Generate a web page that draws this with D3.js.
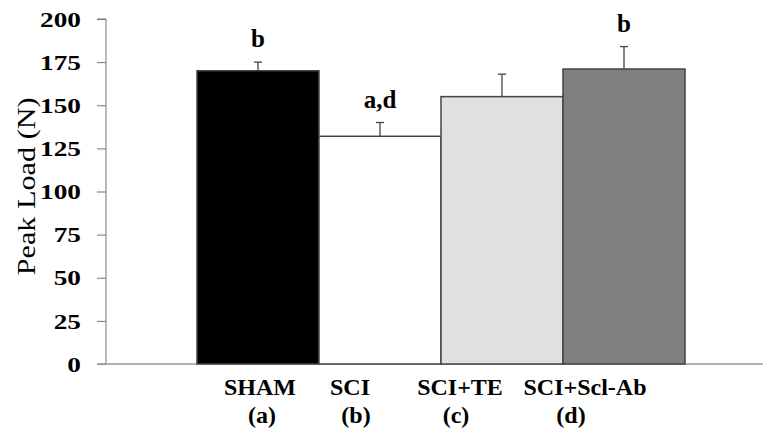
<!DOCTYPE html>
<html>
<head>
<meta charset="utf-8">
<script src="https://cdn.jsdelivr.net/npm/d3@7"></script>
<style>
  body { margin: 0; background: #fff; }
</style>
</head>
<body>
<div id="chart-container"></div>
<script>
const width = 763;
const height = 437;
const font = "Liberation Serif";

// data
const groups = ["SHAM", "SCI", "SCI+TE", "SCI+Scl-Ab"];
const groupCodes = ["(a)", "(b)", "(c)", "(d)"];
const peakLoad = [170, 132, 155, 171];
const errors = [5, 8, 13, 13];
const sigLetters = ["b", "a,d", "", "b"];
const fills = ["#000000", "#ffffff", "#e0e0e0", "#808080"];
const yTicks = [0, 25, 50, 75, 100, 125, 150, 175, 200];

const margin = { top: 19, right: 0, bottom: 73, left: 106 };

const y = d3.scaleLinear([0, 200], [height - margin.bottom, margin.top]);
const x = d3.scaleBand(groups, [197, 685]).padding(0);

// category labels sit left of the bar centres in the original
const nameShift = [2, -30, -42, -39];
const codeShift = [4, -24, -46, -53];

const svg = d3.select("#chart-container")
    .append("svg")
    .attr("viewBox", [0, 0, width, height])
    .attr("width", width)
    .attr("height", height)
    .attr("font-family", font);

// y axis
const yAxis = svg.append("g")
    .attr("transform", `translate(${margin.left},0)`)
    .call(d3.axisLeft(y).tickValues(yTicks).tickSize(9));
yAxis.attr("font-family", font);
yAxis.select(".domain").attr("stroke", "#777").attr("d", `M-9,${y(200)}H0V${y(0)}`);
yAxis.selectAll(".tick line").attr("stroke", "#777");
yAxis.selectAll(".tick text")
    .attr("x", 0)
    .attr("dy", "0.34em")
    .attr("transform", "translate(-25,0) scale(1.3,1)")
    .attr("font-size", 21)
    .attr("font-weight", "bold")
    .attr("fill", "#000");

// baseline
svg.append("line")
    .attr("x1", margin.left - 9).attr("x2", width)
    .attr("y1", y(0)).attr("y2", y(0))
    .attr("stroke", "#999").attr("stroke-width", 1.5);

svg.append("text")
    .attr("transform", `translate(35,${y(103)}) rotate(-90)`)
    .attr("text-anchor", "middle")
    .attr("font-size", 25)
    .attr("textLength", 178)
    .attr("lengthAdjust", "spacingAndGlyphs")
    .text("Peak Load (N)");

// bars
svg.selectAll("rect.bar")
    .data(groups)
    .join("rect")
    .attr("class", "bar")
    .attr("x", d => x(d))
    .attr("y", (d, i) => y(peakLoad[i]))
    .attr("width", x.bandwidth())
    .attr("height", (d, i) => y(0) - y(peakLoad[i]))
    .attr("fill", (d, i) => fills[i])
    .attr("stroke", "#444")
    .attr("stroke-width", 1.5);

// error bars (upper only)
const eb = svg.selectAll("g.err")
    .data(groups)
    .join("g")
    .attr("class", "err")
    .attr("transform", d => `translate(${x(d) + x.bandwidth() / 2},0)`);
eb.append("line")
    .attr("y1", (d, i) => y(peakLoad[i]))
    .attr("y2", (d, i) => y(peakLoad[i] + errors[i]))
    .attr("stroke", "#444").attr("stroke-width", 1.3);
eb.append("line")
    .attr("x1", -4).attr("x2", 4)
    .attr("y1", (d, i) => y(peakLoad[i] + errors[i]))
    .attr("y2", (d, i) => y(peakLoad[i] + errors[i]))
    .attr("stroke", "#444").attr("stroke-width", 1.3);
eb.append("text")
    .attr("y", (d, i) => y(peakLoad[i] + errors[i]) - 15)
    .attr("text-anchor", "middle")
    .attr("font-size", 25)
    .attr("font-weight", "bold")
    .text((d, i) => sigLetters[i]);

// category labels
const cat = svg.selectAll("g.cat")
    .data(groups)
    .join("g")
    .attr("class", "cat")
    .attr("transform", d => `translate(${x(d) + x.bandwidth() / 2},0)`);
cat.append("text")
    .attr("x", (d, i) => nameShift[i])
    .attr("y", 395)
    .attr("text-anchor", "middle")
    .attr("font-size", 24)
    .attr("font-weight", "bold")
    .text(d => d);
cat.append("text")
    .attr("x", (d, i) => codeShift[i])
    .attr("y", 423)
    .attr("text-anchor", "middle")
    .attr("font-size", 24)
    .attr("font-weight", "bold")
    .text((d, i) => groupCodes[i]);
</script>
</body>
</html>
